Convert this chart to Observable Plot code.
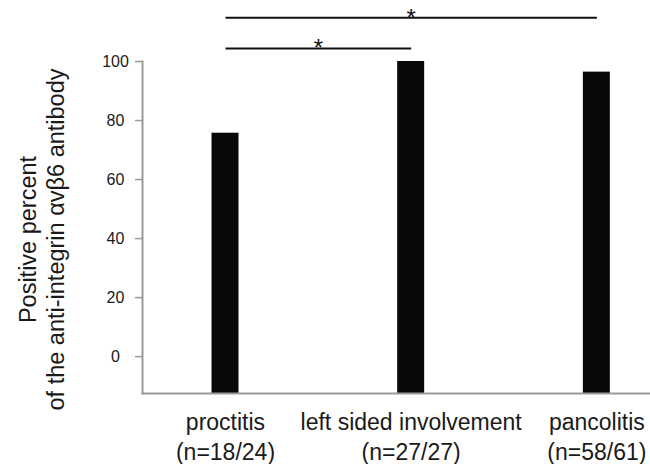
<!DOCTYPE html>
<html>
<head>
<meta charset="utf-8">
<script src="https://cdn.jsdelivr.net/npm/d3@7"></script>
<script src="https://cdn.jsdelivr.net/npm/@observablehq/plot@0.6"></script>
<style>
  html, body { margin: 0; padding: 0; background: #fff; }
  svg { display: block; }
</style>
</head>
<body>
<div id="chart"></div>
<script>
// ---- data ----
const categories = ["proctitis", "left sided involvement", "pancolitis"];
const counts = ["(n=18/24)", "(n=27/27)", "(n=58/61)"];
const positivePercent = [75.7, 100, 96.4];
const yTicks = [0, 20, 40, 60, 80, 100];
const yFloor = -12.5;
const comparisonFrom = [0, 0];          // category index
const comparisonTo = [1, 2];            // category index
const comparisonLevel = [104.4, 114.8];
const comparisonMark = ["*", "*"];
const yLabel = "Positive percent\nof the anti-integrin αvβ6 antibody";

const bars = categories.map((c, i) => ({index: i, value: positivePercent[i]}));
const labelOf = (i) => categories[i] + "\n" + counts[i];
const comparisons = comparisonFrom.map((f, i) => ({
  from: f, to: comparisonTo[i], level: comparisonLevel[i], mark: comparisonMark[i]
}));

const font = "'Liberation Sans', Arial, Helvetica, sans-serif";
const axisGray = "#9a9a9a";
const barHalf = 0.0727; // half bar width in category units

const chart = Plot.plot({
  width: 650,
  height: 464,
  marginTop: 61,
  marginBottom: 71,
  marginLeft: 142,
  marginRight: 0,
  style: {fontFamily: font, background: "#fff", color: "#111"},
  x: {type: "linear", domain: [-0.447, 2.289], axis: null},
  y: {domain: [yFloor, 100], axis: null},
  marks: [
    Plot.rectY(bars, {
      x1: d => d.index - barHalf, x2: d => d.index + barHalf,
      y1: () => yFloor, y2: "value", fill: "#080808"
    }),
    Plot.frame({anchor: "left", stroke: axisGray, strokeWidth: 2}),
    Plot.frame({anchor: "bottom", stroke: axisGray, strokeWidth: 2}),
    Plot.axisY(yTicks, {
      tickSize: 7, tickPadding: 20, stroke: axisGray, strokeWidth: 1.5,
      textAnchor: "middle", fontSize: 16, fill: "#1a1a1a", label: null
    }),
    Plot.axisX(categories.map((c, i) => i), {
      tickSize: 0, tickPadding: 15, fontSize: 23, lineHeight: 1.3,
      fill: "#1a1a1a", label: null, tickFormat: labelOf
    }),
    Plot.link(comparisons, {
      x1: "from", x2: "to", y1: "level", y2: "level", stroke: "#111", strokeWidth: 2
    }),
    Plot.text(comparisons, {
      x: d => (d.from + d.to) / 2, y: "level", text: "mark", fontSize: 24, fill: "#111",
      lineAnchor: "middle"
    }),
    Plot.text([yLabel], {
      text: d => d, frameAnchor: "left", rotate: -90, dx: -101, dy: 12,
      fontSize: 23.5, lineHeight: 1.19, fill: "#1a1a1a", textAnchor: "middle", lineAnchor: "middle"
    })
  ]
});
document.getElementById("chart").appendChild(chart);
</script>
</body>
</html>
